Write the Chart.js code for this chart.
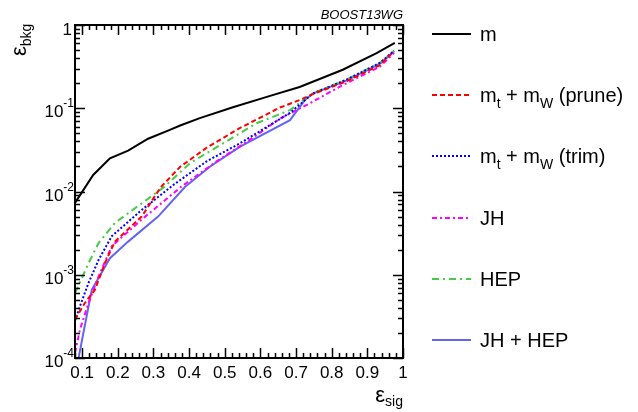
<!DOCTYPE html>
<html>
<head>
<meta charset="utf-8">
<script src="https://cdn.jsdelivr.net/npm/chart.js@4.4.0/dist/chart.umd.min.js"></script>
<style>
  html, body { margin: 0; padding: 0; background: #fff; }
</style>
</head>
<body>
<canvas id="rocChart" width="638" height="412"></canvas>
<script>
// signal efficiency (x) and background efficiency (y) per tagger
const sigM = [0.08, 0.131, 0.178, 0.229, 0.285, 0.346, 0.375, 0.43, 0.523, 0.618, 0.71, 0.831, 0.926, 0.977];
const bkgM = [0.0073, 0.0158, 0.025, 0.031, 0.043, 0.055, 0.062, 0.076, 0.103, 0.137, 0.18, 0.29, 0.46, 0.61];

const sigPrune = [0.08, 0.108, 0.136, 0.164, 0.192, 0.267, 0.32, 0.375, 0.449, 0.543, 0.655, 0.711, 0.747, 0.841, 0.935, 0.971];
const bkgPrune = [0.00029, 0.00046, 0.00066, 0.00138, 0.0025, 0.005, 0.0112, 0.0198, 0.0335, 0.058, 0.102, 0.126, 0.148, 0.21, 0.33, 0.47];

const sigTrim = [0.08, 0.094, 0.118, 0.146, 0.183, 0.267, 0.356, 0.449, 0.543, 0.683, 0.747, 0.841, 0.935, 0.975];
const bkgTrim = [0.00028, 0.00042, 0.0008, 0.0015, 0.0029, 0.006, 0.012, 0.023, 0.038, 0.088, 0.15, 0.22, 0.35, 0.49];

const sigJH = [0.08, 0.094, 0.118, 0.146, 0.183, 0.267, 0.379, 0.477, 0.571, 0.655, 0.739, 0.823, 0.935, 0.975];
const bkgJH = [0.000115, 0.00022, 0.00046, 0.00095, 0.0022, 0.0046, 0.0115, 0.023, 0.042, 0.075, 0.115, 0.182, 0.316, 0.46];

const sigHEP = [0.08, 0.118, 0.146, 0.192, 0.267, 0.332, 0.403, 0.496, 0.589, 0.683, 0.747, 0.841, 0.935, 0.975];
const bkgHEP = [0.0006, 0.00138, 0.0024, 0.0042, 0.0072, 0.0115, 0.022, 0.038, 0.066, 0.095, 0.152, 0.22, 0.35, 0.49];

const sigJHHEP = [0.09, 0.127, 0.178, 0.229, 0.313, 0.389, 0.459, 0.543, 0.683, 0.725, 0.747, 0.841, 0.935, 0.975];
const bkgJHHEP = [0.0001, 0.00066, 0.00158, 0.0025, 0.005, 0.0114, 0.02, 0.0345, 0.072, 0.126, 0.15, 0.215, 0.34, 0.48];

const seriesNames = ['m', 'm_{t} + m_{W} (prune)', 'm_{t} + m_{W} (trim)', 'JH', 'HEP', 'JH + HEP'];

const xTicks = [0.1, 0.2, 0.3, 0.4, 0.5, 0.6, 0.7, 0.8, 0.9, 1];
const xTickLabels = ['0.1', '0.2', '0.3', '0.4', '0.5', '0.6', '0.7', '0.8', '0.9', '1'];
const yTicks = [1, 0.1, 0.01, 0.001, 0.0001];
const yTickExps = ['', '-1', '-2', '-3', '-4'];

const FONT = '"Liberation Sans", Arial, Helvetica, sans-serif';

function pts(xs, ys) {
  return xs.map((x, i) => ({ x: x, y: ys[i] }));
}

function line(label, xs, ys, color, dash) {
  return {
    label: label,
    data: pts(xs, ys),
    borderColor: color,
    backgroundColor: color,
    borderWidth: 2,
    borderDash: dash,
    pointRadius: 0,
    showLine: true,
    tension: 0,
    fill: false
  };
}

// draws text with _{...} subscripts, returns the width
function richText(ctx, text, x, y, size, subSize, subShift, measureOnly) {
  const parts = text.split(/(_\{[^}]*\})/).filter(p => p.length);
  let cx = x;
  parts.forEach(p => {
    const isSub = p.startsWith('_{');
    const s = isSub ? p.slice(2, -1) : p;
    ctx.font = (isSub ? subSize : size) + 'px ' + FONT;
    if (!measureOnly) ctx.fillText(s, cx, isSub ? y + subShift : y);
    cx += ctx.measureText(s).width;
  });
  return cx - x;
}

const framePlugin = {
  id: 'rootFrame',
  afterDraw(chart) {
    const ctx = chart.ctx;
    const a = chart.chartArea;
    const xs = chart.scales.x;
    const ys = chart.scales.y;
    ctx.save();
    ctx.strokeStyle = '#000';
    ctx.fillStyle = '#000';

    // frame
    ctx.lineWidth = 2;
    ctx.strokeRect(a.left, a.top, a.right - a.left, a.bottom - a.top);

    // x ticks, inward on bottom and top
    ctx.lineWidth = 1.5;
    ctx.beginPath();
    for (let i = 4; i <= 50; i++) {
      const v = i / 50;
      const px = Math.round(xs.getPixelForValue(v)) + 0.5;
      const len = i % 5 === 0 ? 10 : 5;
      ctx.moveTo(px, a.bottom); ctx.lineTo(px, a.bottom - len);
      ctx.moveTo(px, a.top); ctx.lineTo(px, a.top + len);
    }
    // y ticks, inward on left and right
    for (let e = -4; e <= 0; e++) {
      for (let k = 1; k <= 9; k++) {
        if (e === 0 && k > 1) break;
        const v = k * Math.pow(10, e);
        const py = Math.round(ys.getPixelForValue(v)) + 0.5;
        const len = k === 1 ? 10 : 5;
        ctx.moveTo(a.left, py); ctx.lineTo(a.left + len, py);
        ctx.moveTo(a.right, py); ctx.lineTo(a.right - len, py);
      }
    }
    ctx.stroke();

    // x tick labels
    ctx.font = '17px ' + FONT;
    ctx.textAlign = 'center';
    ctx.textBaseline = 'alphabetic';
    xTicks.forEach((v, i) => {
      ctx.fillText(xTickLabels[i], xs.getPixelForValue(v), a.bottom + 20);
    });

    // y tick labels with superscript exponents
    ctx.textAlign = 'left';
    yTicks.forEach((v, i) => {
      const py = ys.getPixelForValue(v);
      const right = a.left - 1;
      if (!yTickExps[i]) {
        ctx.font = '17px ' + FONT;
        const w = ctx.measureText('1').width;
        ctx.fillText('1', right - w - 2, py + 10);
        return;
      }
      ctx.font = '12px ' + FONT;
      const ws = ctx.measureText(yTickExps[i]).width;
      ctx.fillText(yTickExps[i], right - ws, py - 1);
      ctx.font = '17px ' + FONT;
      const wb = ctx.measureText('10').width;
      ctx.fillText('10', right - ws - wb, py + 9);
    });

    // x title
    const xTitleW = richText(ctx, '\u03b5_{sig}', 0, 0, 22, 14, 4, true);
    richText(ctx, '\u03b5_{sig}', a.right - xTitleW, 402, 22, 14, 4, false);

    // y title, rotated
    ctx.save();
    ctx.translate(26, 56);
    ctx.rotate(-Math.PI / 2);
    richText(ctx, '\u03b5_{bkg}', 0, 0, 22, 14, 5, false);
    ctx.restore();

    // label above frame
    ctx.font = 'italic 13px ' + FONT;
    ctx.textAlign = 'right';
    ctx.fillText('BOOST13WG', a.right, 19);

    // legend
    const rowY = [34, 95, 156, 218, 279, 340];
    ctx.textAlign = 'left';
    chart.data.datasets.forEach((ds, i) => {
      const y = rowY[i];
      ctx.save();
      ctx.strokeStyle = ds.borderColor;
      ctx.lineWidth = 2;
      ctx.setLineDash(ds.borderDash || []);
      ctx.beginPath();
      ctx.moveTo(432, y); ctx.lineTo(471, y);
      ctx.stroke();
      ctx.restore();
      ctx.fillStyle = '#000';
      richText(ctx, seriesNames[i], 480, y + 7, 20, 14, 6, false);
    });

    ctx.restore();
  }
};

const ctx = document.getElementById('rocChart').getContext('2d');
new Chart(ctx, {
  type: 'scatter',
  data: {
    datasets: [
      line(seriesNames[0], sigM, bkgM, '#000000', []),
      line(seriesNames[1], sigPrune, bkgPrune, '#ff0000', [5, 3]),
      line(seriesNames[2], sigTrim, bkgTrim, '#0000ff', [2, 2]),
      line(seriesNames[3], sigJH, bkgJH, '#ff00ff', [5, 3, 2, 3]),
      line(seriesNames[4], sigHEP, bkgHEP, '#44cc44', [7, 4, 2, 4]),
      line(seriesNames[5], sigJHHEP, bkgJHHEP, '#6464f0', [])
    ]
  },
  options: {
    responsive: false,
    animation: false,
    devicePixelRatio: 1,
    layout: { padding: { left: 75, top: 25, right: 235, bottom: 54 } },
    plugins: {
      legend: { display: false },
      tooltip: { enabled: false }
    },
    scales: {
      x: { type: 'linear', min: 0.08, max: 1, display: false },
      y: { type: 'logarithmic', min: 0.0001, max: 1, display: false }
    }
  },
  plugins: [framePlugin]
});
</script>
</body>
</html>
